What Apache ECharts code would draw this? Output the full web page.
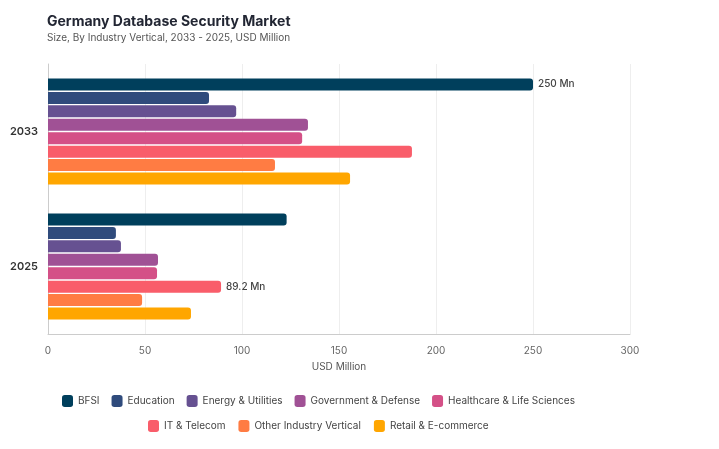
<!DOCTYPE html>
<html>
<head>
<meta charset="utf-8">
<script src="https://cdn.jsdelivr.net/npm/echarts@6/dist/echarts.min.js"></script>
<style>
  html, body { margin: 0; padding: 0; background: #fff; }
  #chart { width: 719px; height: 449px; }
</style>
</head>
<body>
<div id="chart"></div>
<script>
const years = ["2025", "2033"];
const segments = [
  "BFSI",
  "Education",
  "Energy & Utilities",
  "Government & Defense",
  "Healthcare & Life Sciences",
  "IT & Telecom",
  "Other Industry Vertical",
  "Retail & E-commerce",
];
const colors = ["#003f5c", "#2f4b7c", "#665191", "#a05195", "#d45087", "#f95d6a", "#ff7c43", "#ffa600"];
// values per segment: [2025, 2033]
const bfsi = [123, 250];
const education = [35, 83];
const energy = [37.6, 97];
const government = [56.7, 134];
const healthcare = [56.2, 131];
const itTelecom = [89.2, 187.6];
const otherVertical = [48.5, 117];
const retail = [73.7, 155.7];
const values = [bfsi, education, energy, government, healthcare, itTelecom, otherVertical, retail];
// which bar gets a value label: [segment index, year index]
const labelled = [[0, 1], [5, 0]];

const font = "Inter, 'Noto Sans', sans-serif";
const chart = echarts.init(document.getElementById("chart"));

const series = segments.map((name, i) => ({
  name: name,
  type: "bar",
  barWidth: 12,
  barGap: "12%",
  itemStyle: { color: colors[i], borderRadius: [0, 3, 3, 0] },
  data: values[i].map((v, j) => {
    const hasLabel = labelled.some((l) => l[0] === i && l[1] === j);
    return {
      value: v,
      label: {
        show: hasLabel,
        position: "right",
        distance: 5,
        formatter: (p) => p.value + " Mn",
        color: "#444",
        fontSize: 10,
        fontWeight: 500,
        fontFamily: font,
      },
    };
  }),
}));

chart.setOption({
  animation: false,
  color: colors,
  title: {
    text: "Germany Database Security Market",
    subtext: "Size, By Industry Vertical, 2033 - 2025, USD Million",
    left: 42,
    top: 10,
    itemGap: 4,
    textStyle: { fontFamily: font, fontSize: 14, fontWeight: "bold", color: "#222633" },
    subtextStyle: { fontFamily: font, fontSize: 10, color: "#555" },
  },
  legend: [
    {
      data: segments.slice(0, 5),
      left: 62,
      top: 395,
      padding: 0,
      itemWidth: 11,
      itemHeight: 12,
      itemGap: 12,
      icon: "roundRect",
      textStyle: { fontFamily: font, fontSize: 10, color: "#444" },
    },
    {
      data: segments.slice(5),
      left: 148,
      top: 420,
      padding: 0,
      itemWidth: 11,
      itemHeight: 12,
      itemGap: 13,
      icon: "roundRect",
      textStyle: { fontFamily: font, fontSize: 10, color: "#444" },
    },
  ],
  grid: { left: 48, right: 89, top: 64, bottom: 115, containLabel: false },
  xAxis: {
    type: "value",
    min: 0,
    max: 300,
    interval: 50,
    name: "USD Million",
    nameLocation: "middle",
    nameGap: 28,
    nameTextStyle: { fontFamily: font, fontSize: 10, color: "#555" },
    axisLabel: { fontFamily: font, fontSize: 10, color: "#666", margin: 12 },
    axisLine: { show: true, lineStyle: { color: "#ccc" } },
    axisTick: { show: false },
    splitLine: { show: true, lineStyle: { color: "#eee" } },
  },
  yAxis: {
    type: "category",
    data: years,
    axisLabel: { fontFamily: font, fontSize: 11, fontWeight: 600, color: "#333", margin: 10 },
    axisLine: { show: true, lineStyle: { color: "#ccc" } },
    axisTick: { show: false },
  },
  series: series,
});
</script>
</body>
</html>
